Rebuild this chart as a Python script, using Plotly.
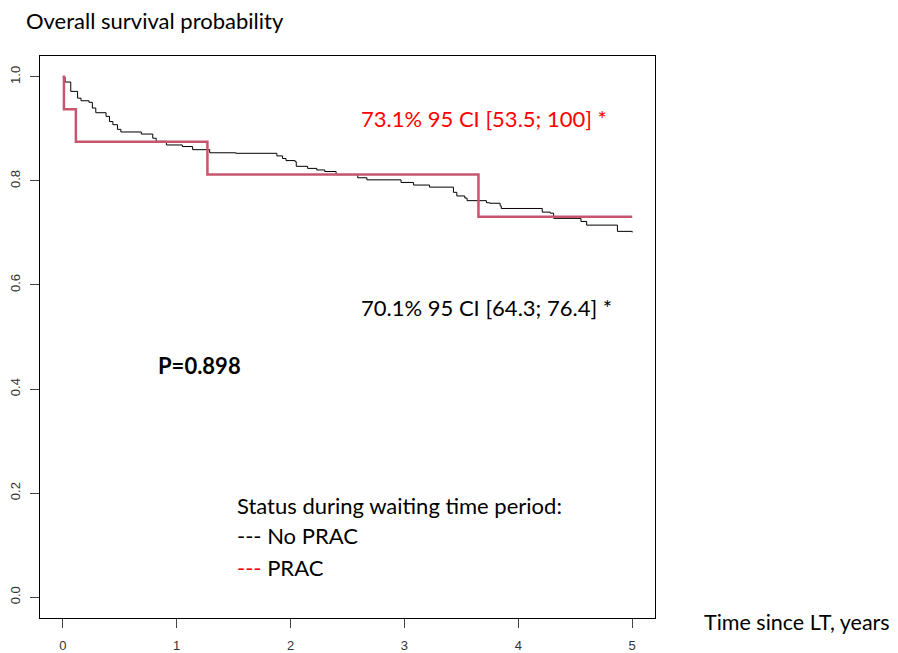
import plotly.graph_objects as go

# Kaplan-Meier step data
no_prac_time = [0.0, 0.02, 0.07, 0.13, 0.16, 0.23, 0.26, 0.29, 0.38, 0.41, 0.44, 0.48, 0.51,
                0.69, 0.79, 0.82, 0.91, 1.05, 1.14, 1.29, 1.52, 1.88, 1.93, 1.96, 2.04, 2.05,
                2.15, 2.23, 2.30, 2.40, 2.59, 2.67, 2.97, 3.08, 3.22, 3.43, 3.46, 3.53, 3.55,
                3.72, 3.75, 3.84, 3.85, 4.21, 4.28, 4.31, 4.55, 4.60, 4.87, 5.0]
no_prac_surv = [1.0, 0.99, 0.972, 0.959, 0.954, 0.951, 0.94, 0.931, 0.924, 0.914, 0.908, 0.899, 0.894,
                0.89, 0.882, 0.876, 0.869, 0.866, 0.86, 0.854, 0.853, 0.848, 0.843, 0.839, 0.837, 0.828,
                0.824, 0.821, 0.818, 0.812, 0.806, 0.802, 0.797, 0.792, 0.788, 0.778, 0.771, 0.767, 0.762,
                0.758, 0.757, 0.752, 0.747, 0.74, 0.738, 0.728, 0.722, 0.715, 0.703, 0.701]

prac_time = [0.0, 0.01, 0.115, 1.27, 3.65, 5.0]
prac_surv = [1.0, 0.9375, 0.875, 0.8125, 0.731, 0.731]

x_ticks = [0, 1, 2, 3, 4, 5]
y_ticks = [0.0, 0.2, 0.4, 0.6, 0.8, 1.0]
y_tick_labels = ["0.0", "0.2", "0.4", "0.6", "0.8", "1.0"]

TXT = "Lato"
SZ = 22
fig = go.Figure()
fig.add_trace(go.Scatter(x=no_prac_time, y=no_prac_surv, mode="lines", line_shape="hv",
                         line=dict(color="black", width=1), showlegend=False))
fig.add_trace(go.Scatter(x=prac_time, y=prac_surv, mode="lines", line_shape="hv",
                         line=dict(color="rgb(200,85,110)", width=2.5), showlegend=False))

axis_common = dict(showline=True, linecolor="black", linewidth=1, mirror=True, automargin=False,
                   ticks="outside", ticklen=9, tickcolor="#444", showgrid=False, zeroline=False,
                   tickfont=dict(family="Liberation Sans", size=13, color="#333"))
fig.update_xaxes(range=[-0.2, 5.2], tickvals=x_ticks, ticklabelstandoff=6, **axis_common)
fig.update_yaxes(range=[-0.04, 1.04], tickvals=y_ticks, ticktext=y_tick_labels, tickangle=-90,
                 ticklabelstandoff=5, **axis_common)

def ann(x, y, text, color="black", size=SZ, bold=False, xref="x", yref="y"):
    fig.add_annotation(x=x, y=y, xref=xref, yref=yref, text=f"<b>{text}</b>" if bold else text,
                       showarrow=False, xanchor="left", yanchor="middle", borderpad=0,
                       font=dict(family=TXT, size=size, color=color))

ann(2.61, 0.919, "73.1% 95 CI [53.5; 100] *", color="red")
ann(2.61, 0.556, "70.1% 95 CI [64.3; 76.4] *")
ann(0.83, 0.446, "P=0.898", bold=True)
ann(1.52, 0.177, "Status during waiting time period:")
ann(1.52, 0.119, "--- No PRAC")
ann(1.52, 0.058, "<span style='color:red'>---</span> PRAC")
ann(-0.024, 1.064, "Overall survival probability", xref="paper", yref="paper")
ann(1.078, -0.007, "Time since LT, years", size=21.5, xref="paper", yref="paper")

fig.update_layout(width=898, height=653, margin=dict(l=32, r=251, t=48, b=43),
                  plot_bgcolor="white", paper_bgcolor="white")
fig.write_html("out.html")
